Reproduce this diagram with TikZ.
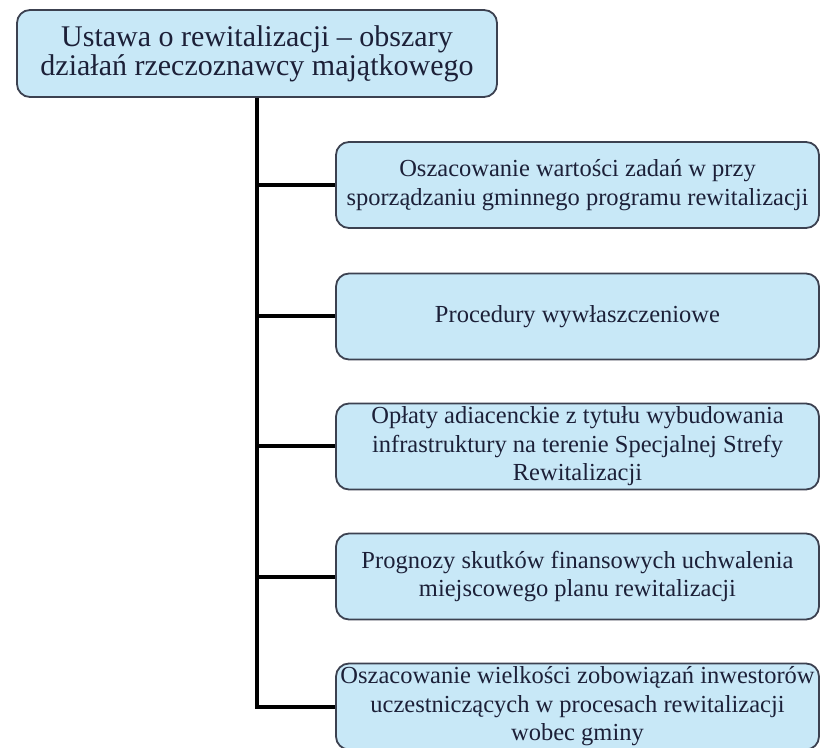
\documentclass[tikz,border=0pt]{standalone}
\usepackage{fontspec}
\setmainfont{Liberation Serif}
\definecolor{boxfill}{HTML}{C8E8F7}
\definecolor{boxdraw}{HTML}{3C4150}
\definecolor{boxtext}{HTML}{1C2038}
\tikzset{
  topbox/.style={draw=boxdraw, fill=boxfill, line width=1.8pt, rounded corners=13pt,
    minimum width=480pt, minimum height=87pt, align=center,
    text=boxtext, inner sep=0pt, font=\fontsize{30}{29}\selectfont},
  itembox/.style={draw=boxdraw, fill=boxfill, line width=1.8pt, rounded corners=13pt,
    minimum width=483pt, minimum height=86pt, align=center,
    text=boxtext, inner sep=0pt, font=\fontsize{24.5}{28.5}\selectfont},
  link/.style={line width=4pt, black}
}
\begin{document}
\begin{tikzpicture}[x=1pt,y=1pt]
\useasboundingbox (0,0) rectangle (826,747);
\clip (0,0) rectangle (826,747);
\fill[white] (0,0) rectangle (826,747);
\node[topbox] (top) at (257,693.5) {Ustawa o rewitalizacji -- obszary\\działań rzeczoznawcy majątkowego};
\node[itembox] (b1) at (577.5,562) {Oszacowanie wartości zadań w przy\\sporządzaniu gminnego programu rewitalizacji};
\node[itembox] (b2) at (577.5,430.5) {Procedury wywłaszczeniowe};
\node[itembox] (b3) at (577.5,300.5) {Opłaty adiacenckie z tytułu wybudowania\\infrastruktury na terenie Specjalnej Strefy\\Rewitalizacji};
\node[itembox] (b4) at (577.5,170.5) {Prognozy skutków finansowych uchwalenia\\miejscowego planu rewitalizacji};
\node[itembox] (b5) at (577.5,40.5) {Oszacowanie wielkości zobowiązań inwestorów\\uczestniczących w procesach rewitalizacji\\wobec gminy};
\coordinate (trunkend) at (top.south |- b5.west);
\draw[link] (top.south) -- (trunkend) -- (b5.west);
\foreach \b in {b1,b2,b3,b4}{
  \draw[link] (top.south |- \b.west) -- (\b.west);
}
\end{tikzpicture}
\end{document}
